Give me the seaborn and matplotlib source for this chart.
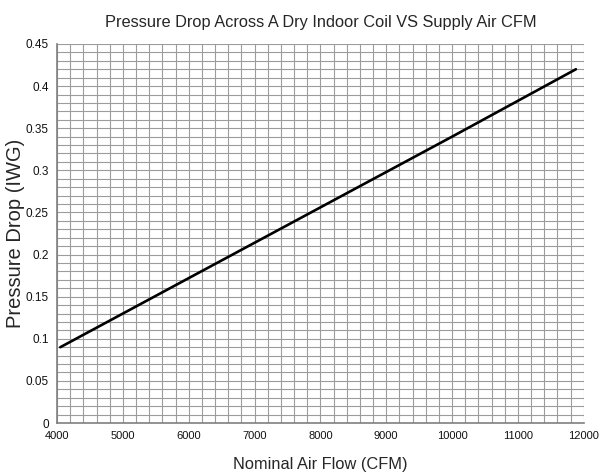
import numpy as np
import pandas as pd
import matplotlib
matplotlib.use("Agg")
import matplotlib.pyplot as plt
import seaborn as sns
from matplotlib.ticker import MultipleLocator

# data
cfm = [4050, 6000, 8000, 10000, 11880]
pressure_drop = [0.090, 0.172, 0.256, 0.340, 0.420]
ytick_labels = ["0", "0.05", "0.1", "0.15", "0.2", "0.25", "0.3", "0.35", "0.4", "0.45"]

sns.set_style("white")
plt.rcParams["font.family"] = ["Liberation Sans", "DejaVu Sans"]

df = pd.DataFrame({"cfm": cfm, "dp": pressure_drop})

fig = plt.figure(figsize=(6, 4.76), dpi=100)
ax = fig.add_axes([0.095, 0.1113, 0.878, 0.7963])

sns.lineplot(data=df, x="cfm", y="dp", color="black", linewidth=1.9, ax=ax)

ax.set_xlim(4000, 12000)
ax.set_ylim(0, 0.45)
ax.xaxis.set_major_locator(MultipleLocator(1000))
ax.xaxis.set_minor_locator(MultipleLocator(200))
ax.yaxis.set_minor_locator(MultipleLocator(0.01))
ax.set_yticks(np.arange(0, 0.451, 0.05))
ax.set_yticklabels(ytick_labels)

ax.grid(which="both", color="#9c9c9c", linewidth=0.8)
ax.set_axisbelow(True)
ax.tick_params(axis="both", which="major", direction="out", length=3, width=1,
               color="#808080", pad=3, labelcolor="#111111")
ax.tick_params(axis="x", labelsize=8)
ax.tick_params(axis="y", labelsize=8.5)
ax.tick_params(axis="both", which="minor", length=0)

for side in ["top", "right"]:
    ax.spines[side].set_visible(False)
for side in ["left", "bottom"]:
    ax.spines[side].set_color("#808080")
    ax.spines[side].set_linewidth(1.2)

ax.set_title("Pressure Drop Across A Dry Indoor Coil VS Supply Air CFM",
             fontsize=11.8, pad=12)
ax.set_xlabel("Nominal Air Flow (CFM)", fontsize=11.8, labelpad=11)
ax.set_ylabel("Pressure Drop (IWG)", fontsize=14.5)
ax.yaxis.set_label_coords(-0.06, 0.5)

fig.savefig("out.png", dpi=100)
